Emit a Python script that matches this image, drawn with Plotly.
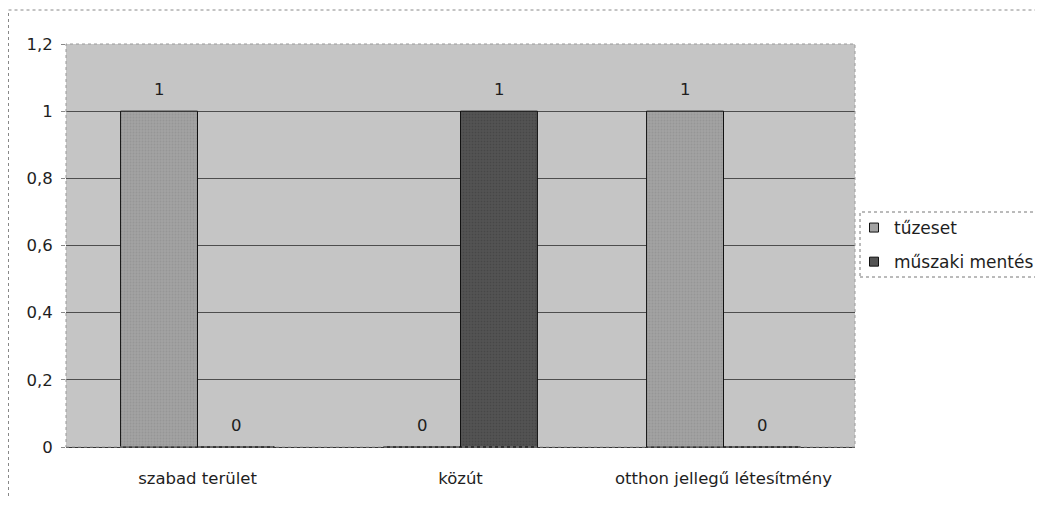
import plotly.graph_objects as go

categories = ["szabad terület", "közút", "otthon jellegű létesítmény"]
tuzeset = [1, 0, 1]
muszaki = [0, 1, 0]
series_names = ["tűzeset", "műszaki mentés"]
ytick_vals = [0, 0.2, 0.4, 0.6, 0.8, 1, 1.2]
ytick_text = ["0", "0,2", "0,4", "0,6", "0,8", "1", "1,2"]

colors = ["#a2a2a2", "#545454"]
font = "DejaVu Sans, Liberation Sans, Arial, sans-serif"
txt = "#1e1e1e"

# page has an 8px body margin; keep the figure inside the window (no scrollbars)
W, H = 1043 - 16, 507 - 16
OFF = 8
L, T = 58, 36
R = OFF + W - 855
B = OFF + H - 447
PW, PH = W - L - R, H - T - B
X0, Y0 = OFF + L, OFF + T  # page position of plot area top-left


def px_x(p):
    return (p - X0) / PW


def px_y(p):
    return (Y0 + PH - p) / PH


fig = go.Figure()
for name, vals, col in zip(series_names, [tuzeset, muszaki], colors):
    fig.add_trace(go.Bar(
        x=categories, y=vals, name=name, showlegend=False,
        marker=dict(color=col, line=dict(color="#111111", width=1),
                    pattern=dict(shape=".", fgcolor="#8a8a8a" if col == colors[0] else "#3a3a3a",
                                 bgcolor=col, size=3, solidity=0.3)),
    ))
# legend entries with small square swatches
for i, (name, col) in enumerate(zip(series_names, colors)):
    fig.add_trace(go.Scatter(
        x=[None], y=[None], mode="markers", name=name, legendgroup=f"g{i}",
        marker=dict(symbol="square", size=9, color=col, line=dict(color="#111111", width=1)),
    ))

annotations = []
for i, vals in enumerate([tuzeset, muszaki]):
    shift = -38.5 if i == 0 else 38.5
    for c, v in zip(categories, vals):
        annotations.append(dict(
            x=c, y=v, xref="x", yref="y", text=str(v), showarrow=False,
            xshift=shift, yanchor="bottom", yshift=10,
            font=dict(family=font, size=16.5, color=txt),
        ))

fig.update_layout(
    width=W, height=H,
    margin=dict(l=L, r=R, t=T, b=B, autoexpand=False),
    paper_bgcolor="white",
    plot_bgcolor="#c5c5c5",
    barmode="group", bargap=0.415, bargroupgap=0,
    font=dict(family=font, size=16.5, color=txt),
    showlegend=True,
    legend=dict(x=px_x(854), y=px_y(210),
                xanchor="left", yanchor="top",
                bgcolor="rgba(0,0,0,0)", borderwidth=0,
                font=dict(family=font, size=17, color=txt),
                itemwidth=30, traceorder="grouped", tracegroupgap=9),
    annotations=annotations,
    shapes=[
        # outer chart frame
        dict(type="rect", xref="paper", yref="paper",
             x0=px_x(8.5), x1=px_x(1100), y0=px_y(530), y1=px_y(10),
             line=dict(color="#888888", width=1, dash="dot"), layer="below"),
        # plot area frame
        dict(type="rect", xref="paper", yref="paper", x0=0, x1=1, y0=0, y1=1,
             line=dict(color="#9a9a9a", width=1, dash="dot")),
        # legend box
        dict(type="rect", xref="paper", yref="paper",
             x0=px_x(860), x1=px_x(1100), y0=px_y(277), y1=px_y(212),
             fillcolor="white", line=dict(color="#777777", width=1, dash="dot"),
             layer="above"),
    ],
)
fig.update_yaxes(range=[0, 1.2], tickvals=ytick_vals, ticktext=ytick_text,
                 showgrid=True, gridcolor="#4e4e4e", gridwidth=1,
                 ticks="outside", ticklen=4, tickcolor="#888888",
                 zeroline=False, showline=False, ticklabelstandoff=5,
                 tickfont=dict(family=font, size=16.5, color=txt))
fig.update_xaxes(showline=True, linecolor="#333333", linewidth=1,
                 ticks="", tickfont=dict(family=font, size=16.5, color=txt),
                 ticklabelstandoff=16)

fig.write_html("out.html")
